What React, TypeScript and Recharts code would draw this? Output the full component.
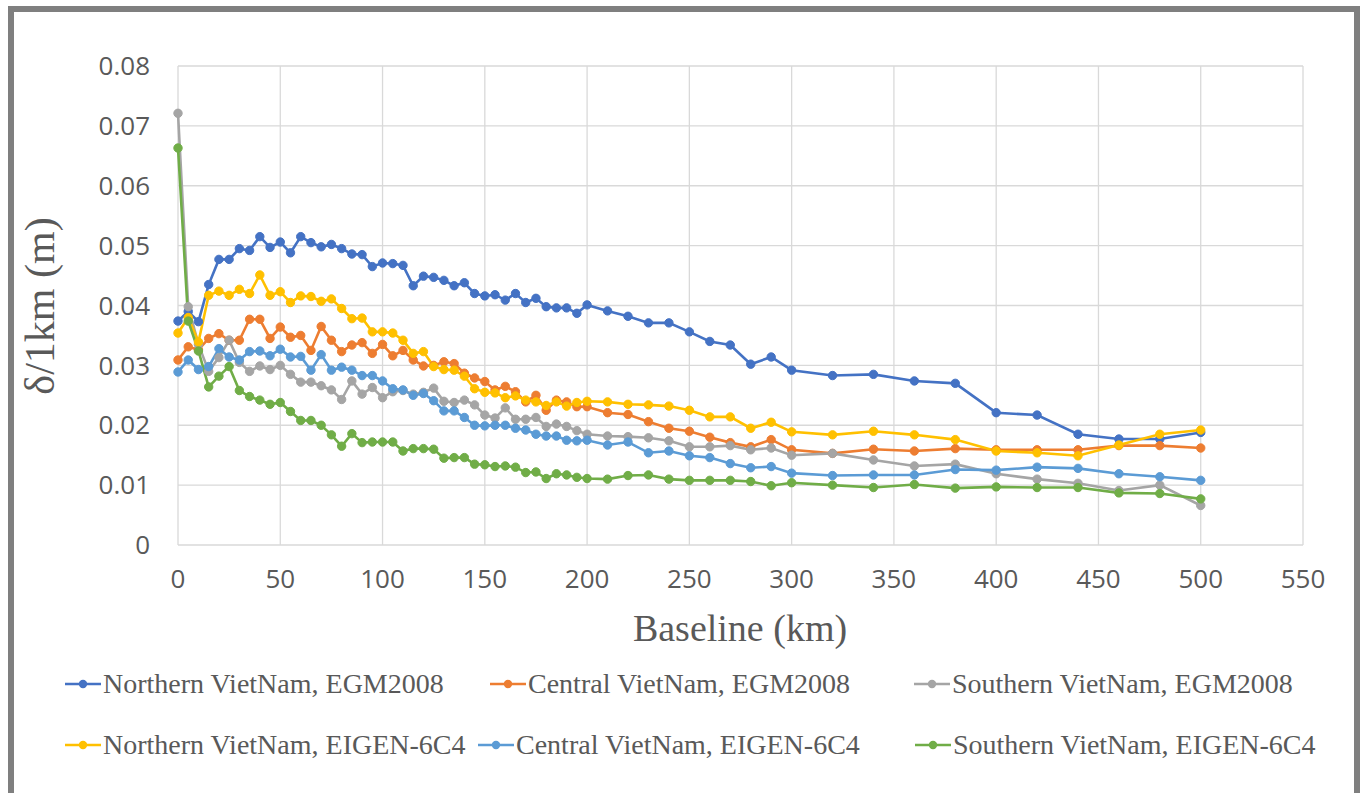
import { LineChart, Line, XAxis, YAxis, CartesianGrid } from "recharts";

const baseline = [
  0, 5, 10, 15, 20, 25, 30, 35, 40, 45, 50, 55, 60, 65, 70, 75, 80, 85, 90, 95, 100,
  105, 110, 115, 120, 125, 130, 135, 140, 145, 150, 155, 160, 165, 170, 175, 180, 185, 190, 195, 200,
  210, 220, 230, 240, 250, 260, 270, 280, 290, 300,
  320, 340, 360, 380, 400, 420, 440, 460, 480, 500,
];

const northernEgm = [
  0.0374, 0.039, 0.0373, 0.0435, 0.0477, 0.0477, 0.0495, 0.0492, 0.0515, 0.0497, 0.0506, 0.0488, 0.0515, 0.0505, 0.0498, 0.0502, 0.0495, 0.0486, 0.0485, 0.0465, 0.0471,
  0.047, 0.0467, 0.0433, 0.0449, 0.0447, 0.0442, 0.0433, 0.0438, 0.042, 0.0416, 0.0418, 0.0409, 0.042, 0.0405, 0.0412, 0.0398, 0.0396, 0.0396, 0.0387, 0.0401,
  0.0391, 0.0382, 0.0371, 0.0371, 0.0356, 0.034, 0.0334, 0.0302, 0.0314, 0.0292,
  0.0283, 0.0285, 0.0274, 0.027, 0.0221, 0.0217, 0.0185, 0.0177, 0.0177, 0.0188,
];

const centralEgm = [
  0.0309, 0.0331, 0.0326, 0.0345, 0.0353, 0.0342, 0.0342, 0.0377, 0.0377, 0.0345, 0.0364, 0.0347, 0.035, 0.0325, 0.0365, 0.0342, 0.0323, 0.0334, 0.0338, 0.032, 0.0335,
  0.0316, 0.0325, 0.0309, 0.0299, 0.03, 0.0306, 0.0303, 0.0287, 0.0279, 0.0273, 0.0259, 0.0265, 0.0256, 0.0239, 0.025, 0.0225, 0.0242, 0.0239, 0.0231, 0.0231,
  0.0221, 0.0218, 0.0206, 0.0195, 0.019, 0.018, 0.0171, 0.0164, 0.0176, 0.0159,
  0.0153, 0.016, 0.0157, 0.0161, 0.0159, 0.0159, 0.0159, 0.0166, 0.0166, 0.0162,
];

const southernEgm = [
  0.0721, 0.0398, 0.0335, 0.029, 0.0313, 0.0342, 0.0305, 0.029, 0.0299, 0.0293, 0.03, 0.0285, 0.0272, 0.0272, 0.0266, 0.0259, 0.0243, 0.0274, 0.0252, 0.0263, 0.0246,
  0.0256, 0.0258, 0.0252, 0.0255, 0.0262, 0.024, 0.0238, 0.0242, 0.0234, 0.0217, 0.0212, 0.0229, 0.021, 0.021, 0.0213, 0.0198, 0.0202, 0.0198, 0.0191, 0.0185,
  0.0182, 0.0181, 0.0179, 0.0174, 0.0164, 0.0164, 0.0166, 0.0159, 0.0162, 0.015,
  0.0153, 0.0142, 0.0132, 0.0135, 0.0119, 0.011, 0.0103, 0.0091, 0.01, 0.0066,
];

const northernEigen = [
  0.0354, 0.038, 0.0339, 0.0417, 0.0424, 0.0417, 0.0427, 0.042, 0.0451, 0.0417, 0.0423, 0.0405, 0.0416, 0.0415, 0.0407, 0.0411, 0.0395, 0.0378, 0.0379, 0.0356, 0.0356,
  0.0354, 0.0342, 0.032, 0.0323, 0.0298, 0.0293, 0.0292, 0.0282, 0.0261, 0.0255, 0.0254, 0.0246, 0.0249, 0.0242, 0.0239, 0.0233, 0.0239, 0.0232, 0.0238, 0.024,
  0.0239, 0.0235, 0.0234, 0.0232, 0.0225, 0.0214, 0.0214, 0.0195, 0.0205, 0.0189,
  0.0184, 0.019, 0.0184, 0.0176, 0.0157, 0.0154, 0.0149, 0.0167, 0.0185, 0.0192,
];

const centralEigen = [
  0.0289, 0.0309, 0.0293, 0.0298, 0.0328, 0.0314, 0.0309, 0.0323, 0.0324, 0.0316, 0.0327, 0.0314, 0.0315, 0.0292, 0.0318, 0.0292, 0.0297, 0.0292, 0.0283, 0.0283, 0.0274,
  0.0261, 0.0259, 0.025, 0.0253, 0.0241, 0.0224, 0.0224, 0.0213, 0.02, 0.0199, 0.02, 0.02, 0.0195, 0.0192, 0.0185, 0.0182, 0.0182, 0.0175, 0.0174, 0.0175,
  0.0167, 0.0172, 0.0154, 0.0157, 0.0149, 0.0146, 0.0136, 0.0129, 0.0131, 0.012,
  0.0116, 0.0117, 0.0117, 0.0126, 0.0125, 0.013, 0.0128, 0.0119, 0.0114, 0.0108,
];

const southernEigen = [
  0.0663, 0.0374, 0.0324, 0.0264, 0.0282, 0.0298, 0.0258, 0.0248, 0.0242, 0.0235, 0.0238, 0.0223, 0.0208, 0.0208, 0.02, 0.0184, 0.0165, 0.0186, 0.0171, 0.0172, 0.0172,
  0.0172, 0.0157, 0.0161, 0.0161, 0.016, 0.0145, 0.0146, 0.0146, 0.0135, 0.0134, 0.0131, 0.0132, 0.013, 0.0121, 0.0122, 0.0111, 0.0119, 0.0117, 0.0113, 0.0111,
  0.011, 0.0116, 0.0117, 0.011, 0.0108, 0.0108, 0.0108, 0.0106, 0.0099, 0.0104,
  0.01, 0.0096, 0.0101, 0.0095, 0.0097, 0.0096, 0.0096, 0.0087, 0.0086, 0.0077,
];

const xTicks = [0, 50, 100, 150, 200, 250, 300, 350, 400, 450, 500, 550];
const yTicks = [0, 0.01, 0.02, 0.03, 0.04, 0.05, 0.06, 0.07, 0.08];

const series = [
  { key: "nEgm", name: "Northern VietNam, EGM2008", color: "#4472C4", values: northernEgm },
  { key: "cEgm", name: "Central VietNam, EGM2008", color: "#ED7D31", values: centralEgm },
  { key: "sEgm", name: "Southern VietNam, EGM2008", color: "#A5A5A5", values: southernEgm },
  { key: "nEigen", name: "Northern VietNam, EIGEN-6C4", color: "#FFC000", values: northernEigen },
  { key: "cEigen", name: "Central VietNam, EIGEN-6C4", color: "#5B9BD5", values: centralEigen },
  { key: "sEigen", name: "Southern VietNam, EIGEN-6C4", color: "#70AD47", values: southernEigen },
];

// legend slot for each series: marker left edge and row centre
const legendSlots = [
  { left: 65, top: 684 },
  { left: 490, top: 684 },
  { left: 914, top: 684 },
  { left: 65, top: 745 },
  { left: 478, top: 745 },
  { left: 915, top: 745 },
];

const data = baseline.map((b, i) => {
  const row: Record<string, number> = { baseline: b };
  series.forEach((s) => (row[s.key] = s.values[i]));
  return row;
});

const tickStyle = { fill: "#595959", fontSize: 26, fontFamily: "'Open Sans', sans-serif" };

export default function App() {
  return (
    <div style={{ position: "absolute", left: 0, top: 0, width: 1367, height: 793, background: "#fff", overflow: "hidden" }}>
      <div
        style={{
          position: "absolute",
          left: 8,
          top: 6,
          width: 1340,
          height: 800,
          border: "6px solid #7f7f7f",
        }}
      />
      <div style={{ position: "absolute", left: 0, top: 0 }}>
        <LineChart width={1367} height={793} data={data} margin={{ top: 66, right: 64, bottom: 188, left: 0 }}>
          <CartesianGrid stroke="#d9d9d9" strokeWidth={1.3} />
          <XAxis
            dataKey="baseline"
            type="number"
            domain={[0, 550]}
            ticks={xTicks}
            axisLine={false}
            tickLine={false}
            tickSize={0}
            tickMargin={25}
            height={60}
            tick={tickStyle}
            interval={0}
          />
          <YAxis
            type="number"
            domain={[0, 0.08]}
            ticks={yTicks}
            axisLine={false}
            tickLine={false}
            tickSize={0}
            tickMargin={28}
            width={178}
            tick={tickStyle}
            tickFormatter={(v: number) => (v === 0 ? "0" : v.toFixed(2))}
            interval={0}
          />
          {series.map((s) => (
            <Line
              key={s.key}
              dataKey={s.key}
              name={s.name}
              stroke={s.color}
              strokeWidth={2.6}
              dot={{ r: 4.2, fill: s.color, stroke: s.color, strokeWidth: 1 }}
              isAnimationActive={false}
            />
          ))}
        </LineChart>
      </div>
      <div
        style={{
          position: "absolute",
          left: 40,
          top: 306,
          transform: "translate(-50%, -50%) rotate(-90deg)",
          whiteSpace: "nowrap",
          fontFamily: "'Liberation Serif', serif",
          fontSize: 42,
          color: "#595959",
        }}
      >
        δ/1km (m)
      </div>
      <div
        style={{
          position: "absolute",
          left: 740,
          top: 628,
          transform: "translate(-50%, -50%)",
          whiteSpace: "nowrap",
          fontFamily: "'Liberation Serif', serif",
          fontSize: 38,
          color: "#595959",
        }}
      >
        Baseline (km)
      </div>
      {series.map((s, i) => (
        <div
          key={s.key}
          style={{
            position: "absolute",
            left: legendSlots[i].left,
            top: legendSlots[i].top,
            transform: "translateY(-50%)",
            display: "flex",
            alignItems: "center",
            whiteSpace: "nowrap",
            fontFamily: "'Liberation Serif', serif",
            fontSize: 28,
            color: "#595959",
          }}
        >
          <svg width={36} height={12} style={{ marginRight: 2 }}>
            <line x1={0} y1={6} x2={36} y2={6} stroke={s.color} strokeWidth={2.6} />
            <circle cx={18} cy={6} r={4.2} fill={s.color} />
          </svg>
          <span>{s.name}</span>
        </div>
      ))}
    </div>
  );
}
